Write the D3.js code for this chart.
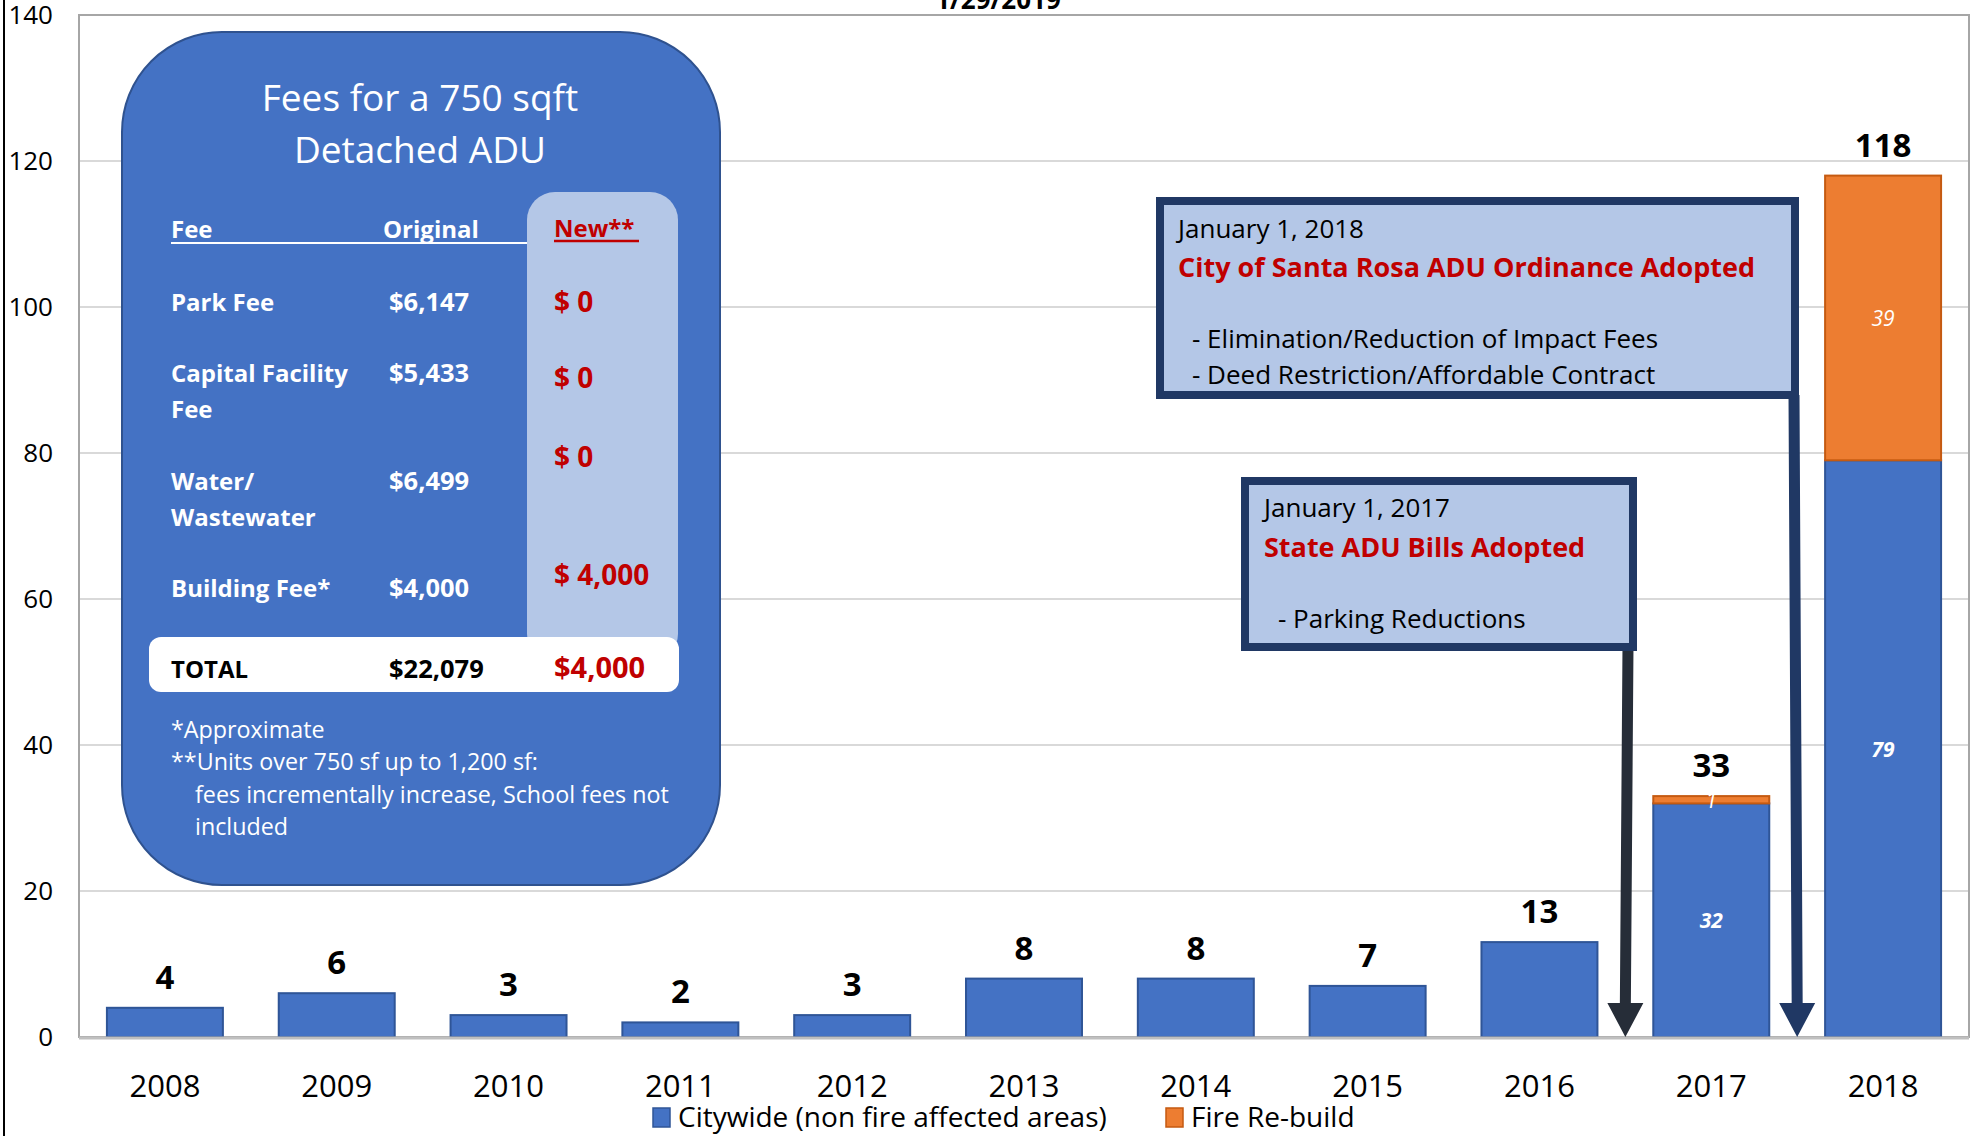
<!DOCTYPE html>
<html>
<head>
<meta charset="utf-8">
<script src="https://cdn.jsdelivr.net/npm/d3@7"></script>
<style>
  body { margin: 0; background: #fff; }
  svg { display: block; }
  text { font-family: "Open Sans", Lato, sans-serif; }
</style>
</head>
<body>
<svg id="chart" width="1973" height="1136"></svg>
<script>
// data
var years = ["2008","2009","2010","2011","2012","2013","2014","2015","2016","2017","2018"];
var citywide = [4, 6, 3, 2, 3, 8, 8, 7, 13, 32, 79];
var fireRebuild = [0, 0, 0, 0, 0, 0, 0, 0, 0, 1, 39];
var yTicks = [0, 20, 40, 60, 80, 100, 120, 140];
var seriesNames = ["Citywide (non fire affected areas)", "Fire Re-build"];

var feeNames = [["Park Fee"], ["Capital Facility", "Fee"], ["Water/", "Wastewater"], ["Building Fee*"]];
var originalFees = ["$6,147", "$5,433", "$6,499", "$4,000"];
var newFees = ["$ 0", "$ 0", "$ 0", "$ 4,000"];
var totals = ["$22,079", "$4,000"];
var footnotes = ["*Approximate", "**Units over 750 sf up to 1,200 sf:", "fees incrementally increase, School fees not", "included"];

var blue = "#4472C4", orange = "#ED7D31", navy = "#203864", red = "#C00000", pale = "#B4C7E7";
var font = "'Open Sans', Lato, sans-serif";

var svg = d3.select("#chart");
var plotL = 79, plotR = 1969, plotT = 15, plotB = 1037;

var x = d3.scaleBand().domain(years).range([plotL, plotR]).paddingInner(0.325).paddingOuter(0.1625);
var y = d3.scaleLinear().domain([0, 140]).range([plotB, plotT]);

var rows = years.map(function(yr, i) { return {year: yr, citywide: citywide[i], fire: fireRebuild[i]}; });
var stack = d3.stack().keys(["citywide", "fire"])(rows);

// frame line at the far left
svg.append("line").attr("x1", 4).attr("x2", 4).attr("y1", 0).attr("y2", 1136)
  .attr("stroke", "#000").attr("stroke-width", 2);

// gridlines
svg.append("g").selectAll("line").data(yTicks.slice(1, -1)).enter().append("line")
  .attr("x1", plotL).attr("x2", plotR)
  .attr("y1", function(d) { return y(d); }).attr("y2", function(d) { return y(d); })
  .attr("stroke", "#D9D9D9").attr("stroke-width", 2);

// plot border
svg.append("rect").attr("x", plotL).attr("y", y(140)).attr("width", plotR - plotL).attr("height", y(0) - y(140))
  .attr("fill", "none").attr("stroke", "#A6A6A6").attr("stroke-width", 2);

// y axis labels
var yAxis = d3.axisLeft(y).tickValues(yTicks).tickSize(0).tickPadding(0);
var gy = svg.append("g").attr("transform", "translate(53,0)").call(yAxis);
gy.select(".domain").remove();
gy.selectAll("text").attr("font-size", 26).attr("fill", "#000").attr("font-family", font);

// title (cut off at the top)
svg.append("text").attr("x", 998).attr("y", 9).attr("text-anchor", "middle")
  .attr("font-size", 26).attr("font-weight", "bold").text("1/29/2019");

// bars
var colors = [blue, orange], strokes = ["#2F5597", "#C55A11"];
var layers = svg.append("g").selectAll("g").data(stack).enter().append("g")
  .attr("fill", function(d, i) { return colors[i]; })
  .attr("stroke", function(d, i) { return strokes[i]; });
layers.selectAll("rect").data(function(d) { return d.filter(function(s) { return s[1] > s[0]; }); }).enter().append("rect")
  .attr("x", function(d) { return x(d.data.year); })
  .attr("width", x.bandwidth())
  .attr("y", function(d) { return y(d[1]); })
  .attr("height", function(d) { return y(d[0]) - y(d[1]); })
  .attr("stroke-width", 2);

// x axis line
svg.append("line").attr("x1", plotL).attr("x2", plotR).attr("y1", plotB + 1).attr("y2", plotB + 1)
  .attr("stroke", "#BFBFBF").attr("stroke-width", 3);

// segment labels for stacked bars
stack.forEach(function(layer, li) {
  svg.append("g").selectAll("text").data(layer.filter(function(d) { return d.data.fire > 0; })).enter().append("text")
    .attr("x", function(d) { return x(d.data.year) + x.bandwidth() / 2; })
    .attr("y", function(d) { return y((d[0] + d[1]) / 2) + 8; })
    .attr("text-anchor", "middle").attr("fill", "#fff").attr("font-style", "italic")
    .attr("font-weight", li === 0 ? "bold" : "normal").attr("font-size", 21)
    .text(function(d) { return d[1] - d[0]; });
});

// total labels
svg.append("g").selectAll("text").data(rows).enter().append("text")
  .attr("x", function(d) { return x(d.year) + x.bandwidth() / 2; })
  .attr("y", function(d) { return y(d.citywide + d.fire) - 19; })
  .attr("text-anchor", "middle").attr("font-size", 33).attr("font-weight", "bold")
  .text(function(d) { return d.citywide + d.fire; });

// x axis labels
var xAxis = d3.axisBottom(x).tickSize(0).tickPadding(0);
var gx = svg.append("g").attr("transform", "translate(0,1097)").call(xAxis);
gx.select(".domain").remove();
gx.selectAll("text").attr("dy", 0).attr("font-size", 31).attr("fill", "#000").attr("font-family", font);

// legend
var legend = svg.append("g");
var legendX = [653, 1166];
seriesNames.forEach(function(name, i) {
  legend.append("rect").attr("x", legendX[i]).attr("y", 1108).attr("width", 17).attr("height", 19)
    .attr("fill", colors[i]).attr("stroke", strokes[i]).attr("stroke-width", 1.5);
  legend.append("text").attr("x", legendX[i] + 25).attr("y", 1127).attr("font-size", 28).text(name);
});

// inset: fee table
var inset = svg.append("g");
inset.append("rect").attr("x", 122).attr("y", 32).attr("width", 598).attr("height", 853)
  .attr("rx", 100).attr("fill", blue).attr("stroke", "#2F528F").attr("stroke-width", 2);
inset.append("rect").attr("x", 527).attr("y", 192).attr("width", 151).attr("height", 470)
  .attr("rx", 28).attr("fill", pale);
inset.append("rect").attr("x", 149).attr("y", 637).attr("width", 530).attr("height", 55)
  .attr("rx", 12).attr("fill", "#fff");

inset.append("text").attr("x", 420).attr("y", 111).attr("text-anchor", "middle").attr("fill", "#fff")
  .attr("font-size", 37).text("Fees for a 750 sqft");
inset.append("text").attr("x", 420).attr("y", 163).attr("text-anchor", "middle").attr("fill", "#fff")
  .attr("font-size", 37).text("Detached ADU");

var colX = [171, 389, 554];
inset.append("text").attr("x", colX[0]).attr("y", 238).attr("fill", "#fff").attr("font-size", 24).attr("font-weight", "bold").text("Fee");
inset.append("text").attr("x", 383).attr("y", 238).attr("fill", "#fff").attr("font-size", 24).attr("font-weight", "bold").text("Original");
inset.append("line").attr("x1", 171).attr("x2", 527).attr("y1", 243).attr("y2", 243).attr("stroke", "#fff").attr("stroke-width", 2);
inset.append("text").attr("x", colX[2]).attr("y", 237).attr("fill", red).attr("font-size", 24).attr("font-weight", "bold").text("New**");
inset.append("line").attr("x1", 554).attr("x2", 639).attr("y1", 241).attr("y2", 241).attr("stroke", red).attr("stroke-width", 2.5);

var rowY = [311, 382, 490, 597], newY = [312, 388, 467, 585];
feeNames.forEach(function(lines, i) {
  lines.forEach(function(t, j) {
    inset.append("text").attr("x", colX[0]).attr("y", rowY[i] + j * 36).attr("fill", "#fff")
      .attr("font-size", 24).attr("font-weight", "bold").text(t);
  });
  inset.append("text").attr("x", colX[1]).attr("y", rowY[i]).attr("fill", "#fff")
    .attr("font-size", 25.5).attr("font-weight", "bold").text(originalFees[i]);
  inset.append("text").attr("x", colX[2]).attr("y", newY[i]).attr("fill", red)
    .attr("font-size", 28).attr("font-weight", "bold").text(newFees[i]);
});
inset.append("text").attr("x", colX[0]).attr("y", 678).attr("font-size", 24).attr("font-weight", "bold").text("TOTAL");
inset.append("text").attr("x", colX[1]).attr("y", 678).attr("font-size", 25.5).attr("font-weight", "bold").text(totals[0]);
inset.append("text").attr("x", colX[2]).attr("y", 678).attr("fill", red).attr("font-size", 29).attr("font-weight", "bold").text(totals[1]);

var footX = [171, 171, 195, 195], footY = [738, 770, 803, 835];
footnotes.forEach(function(t, i) {
  inset.append("text").attr("x", footX[i]).attr("y", footY[i]).attr("fill", "#fff").attr("font-size", 23.3).text(t);
});

// annotation boxes and arrows
function arrow(x0, y0, x1, y1, color) {
  var headW = 36, headL = 34, shaft = 11;
  var yb = y1 - headL;
  var p = d3.path();
  p.moveTo(x0 - shaft / 2, y0);
  p.lineTo(x0 + shaft / 2, y0);
  p.lineTo(x1 + shaft / 2, yb);
  p.lineTo(x1 + headW / 2, yb);
  p.lineTo(x1, y1);
  p.lineTo(x1 - headW / 2, yb);
  p.lineTo(x1 - shaft / 2, yb);
  p.closePath();
  svg.append("path").attr("d", p.toString()).attr("fill", color);
}

var gap = x.step() * x.paddingInner() / 2;
arrow(1628, 645, x("2017") - gap, plotB, "#262D38");
arrow(1794, 395, x("2018") - gap, plotB, navy);

function note(x0, y0, w, h, lines) {
  var g = svg.append("g");
  g.append("rect").attr("x", x0 + 4).attr("y", y0 + 4).attr("width", w - 8).attr("height", h - 8)
    .attr("fill", pale).attr("stroke", navy).attr("stroke-width", 8);
  lines.forEach(function(l) {
    g.append("text").attr("x", l.x).attr("y", l.y).attr("font-size", l.size)
      .attr("font-weight", l.bold ? "bold" : "normal").attr("fill", l.color || "#000").text(l.t);
  });
}

note(1156, 197, 643, 202, [
  {t: "January 1, 2018", x: 1178, y: 238, size: 26},
  {t: "City of Santa Rosa ADU Ordinance Adopted", x: 1178, y: 277, size: 27, bold: true, color: red},
  {t: "- Elimination/Reduction of Impact Fees", x: 1192, y: 348, size: 26},
  {t: "- Deed Restriction/Affordable Contract", x: 1192, y: 384, size: 26}
]);
note(1241, 477, 396, 174, [
  {t: "January 1, 2017", x: 1264, y: 517, size: 26},
  {t: "State ADU Bills Adopted", x: 1264, y: 557, size: 27, bold: true, color: red},
  {t: "- Parking Reductions", x: 1278, y: 628, size: 26}
]);
</script>
</body>
</html>
